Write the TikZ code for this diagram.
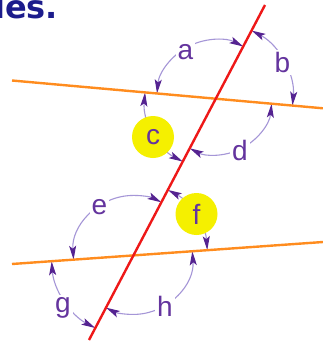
\documentclass[tikz,border=0pt]{standalone}
\usepackage{fontspec}
\setmainfont{Liberation Sans}
\newfontfamily\titlefont{DejaVu Sans}
\usetikzlibrary{arrows.meta}
\definecolor{arcc}{RGB}{165,150,215}
\definecolor{tipc}{RGB}{85,35,145}
\definecolor{labc}{RGB}{100,52,158}
\definecolor{redl}{RGB}{238,24,24}
\definecolor{orl}{RGB}{255,140,30}
\definecolor{yel}{RGB}{245,240,0}
\definecolor{titc}{RGB}{28,28,140}
\tikzset{ptip/.tip={Stealth[length=14pt,width=7pt,inset=3pt,color=tipc]}}
\begin{document}
\begin{tikzpicture}[x=1pt,y=-1pt,
  arcline/.style={draw=arcc, line width=1.1pt, ptip-ptip},
  lab/.style={text=labc, font=\fontsize{28}{30}\selectfont, fill=white, inner sep=2pt},
  hilite/.style={circle, fill=yel, minimum size=42pt, inner sep=0pt, text=labc, font=\fontsize{28}{30}\selectfont},
  redline/.style={draw=redl, line width=2.4pt},
  orline/.style={draw=orl, line width=2.4pt}]
\clip (0,0) rectangle (323,343);
\fill[white] (0,0) rectangle (323,343);
% title (cropped in the reference too)
\node[anchor=base west, inner sep=0pt, text=titc, font=\titlefont\bfseries\fontsize{32}{34}\selectfont] (title) at (-6,18) {les.};
% line end points
\coordinate (R1) at (265,5);
\coordinate (R2) at (89,340);
\coordinate (O1) at (12,80.5);
\coordinate (O2) at (323,108.3);
\coordinate (P1) at (12,264);
\coordinate (P2) at (323,242);
\coordinate (U) at (intersection of R1--R2 and O1--O2);
\coordinate (L) at (intersection of R1--R2 and P1--P2);
% angle arcs, upper crossing
\draw[arcline] ([shift={(-174.89:59)}]U) arc[start angle=-174.89, end angle=-62.28, radius=59];
\draw[arcline] ([shift={(-62.28:77)}]U) arc[start angle=-62.28, end angle=5.11, radius=77];
\draw[arcline] ([shift={(117.72:71)}]U) arc[start angle=117.72, end angle=185.11, radius=71];
\draw[arcline] ([shift={(5.11:56)}]U) arc[start angle=5.11, end angle=117.72, radius=56];
% angle arcs, lower crossing
\draw[arcline] ([shift={(-184.05:60)}]L) arc[start angle=-184.05, end angle=-62.28, radius=60];
\draw[arcline] ([shift={(-62.28:74)}]L) arc[start angle=-62.28, end angle=-4.05, radius=74];
\draw[arcline] ([shift={(117.72:82)}]L) arc[start angle=117.72, end angle=175.95, radius=82];
\draw[arcline] ([shift={(-4.05:59)}]L) arc[start angle=-4.05, end angle=117.72, radius=59];
% lines
\draw[orline] (O1) -- (O2);
\draw[orline] (P1) -- (P2);
\draw[redline] (R1) -- (R2);
% labels
\node[lab] (la) at (185.5,52) {a};
\node[lab] (lb) at (282.5,62.5) {b};
\node[hilite] (lc) at (153,137) {c};
\node[lab] (ld) at (240,150) {d};
\node[lab] (le) at (99.5,207.5) {e};
\node[hilite] (lf) at (196.5,214) {f};
\node[lab] (lg) at (63,307.5) {g};
\node[lab] (lh) at (165,306.5) {h};
\end{tikzpicture}
\end{document}
